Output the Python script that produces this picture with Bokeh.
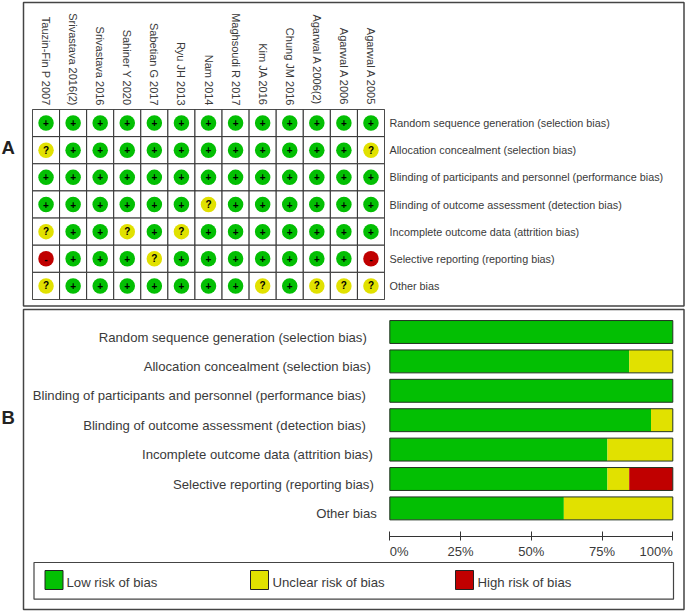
import math
from bokeh.embed import file_html
from bokeh.resources import INLINE
from bokeh.plotting import figure
from bokeh.core.properties import value
from bokeh.models import ColumnDataSource, FactorRange, Range1d, FixedTicker, LinearAxis

studies = ["Tauzin-Fin P 2007", "Srivastava 2016(2)", "Srivastava 2016", "Sahiner Y 2020",
           "Sabetian G 2017", "Ryu JH 2013", "Nam 2014", "Maghsoudi R 2017", "Kim JA 2016",
           "Chung JM 2016", "Agarwal A 2006(2)", "Agarwal A 2006", "Agarwal A 2005"]
domains = ["Random sequence generation (selection bias)",
           "Allocation concealment (selection bias)",
           "Blinding of participants and personnel (performance bias)",
           "Blinding of outcome assessment (detection bias)",
           "Incomplete outcome data (attrition bias)",
           "Selective reporting (reporting bias)",
           "Other bias"]
judgement_rows = [
    list("+++++++++++++"),
    list("?+++++++++++?"),
    list("+++++++++++++"),
    list("++++++?++++++"),
    list("?++?+?+++++++"),
    list("-+++?+++++++-"),
    list("?+++++++?+???"),
]
low_pct = [100, 84.6, 100, 92.3, 76.9, 76.9, 61.5]
unclear_pct = [0, 15.4, 0, 7.7, 23.1, 7.7, 38.5]
high_pct = [0, 0, 0, 0, 0, 15.4, 0]
pct_ticks = [0, 25, 50, 75, 100]
pct_labels = ["0%", "25%", "50%", "75%", "100%"]
pct_aligns = ["left", "center", "center", "center", "right"]
legend_labels = ["Low risk of bias", "Unclear risk of bias", "High risk of bias"]

GREEN, YELLOW, RED = "#03bf03", "#e1e100", "#c00000"
FONT = "Liberation Sans"
TXT = "#3a3a3a"
BOX = "#444444"
colour = {"+": GREEN, "?": YELLOW, "-": RED}


def fig(w, h, top, **kw):
    f = figure(width=w, height=h, output_backend="svg", toolbar_location=None, tools="",
               styles={"position": "absolute", "left": "0px", "top": f"{top}px"},
               border_fill_color=None, background_fill_color=None, **kw)
    f.grid.visible = False
    return f


# ---------- Page layer: panel frames, panel letters, legend
page = fig(685, 611, 0, x_range=Range1d(0, 685), y_range=Range1d(611, 0),
           x_axis_location=None, y_axis_location=None,
           min_border_left=0, min_border_right=0, min_border_top=0, min_border_bottom=0)
page.outline_line_color = None
page.quad(left=[23, 23], right=[683.5, 683.5], top=[2, 309], bottom=[305.5, 609],
          fill_color=None, line_color=BOX, line_width=1.5)
page.quad(left=[33.5], right=[673], top=[562], bottom=[598.7], fill_color=None,
          line_color=BOX, line_width=1.2)
page.text(x=[1, 1], y=[147, 417], text=["A", "B"], text_baseline="middle",
          text_font=value(FONT), text_font_style="bold", text_font_size="18.5px", text_color="#222222")
page.quad(left=[44.5, 250, 455], right=[62.5, 268, 473], top=[570] * 3, bottom=[589] * 3,
          fill_color=[GREEN, YELLOW, RED], line_color="#222222", line_width=1)
page.text(x=[66, 272, 477], y=[582] * 3, text=legend_labels, text_baseline="middle",
          text_font=value(FONT), text_font_size="13.2px", text_color=TXT)

# ---------- Panel A
a = fig(685, 306, 0, x_range=FactorRange(factors=studies), y_range=FactorRange(factors=domains[::-1]),
        x_axis_location="above", y_axis_location="right",
        min_border_left=32, min_border_right=301, min_border_top=109, min_border_bottom=7)
a.outline_line_color = "#333333"
for ax in (a.xaxis[0], a.yaxis[0]):
    ax.axis_line_color = None
    ax.major_tick_line_color = None
    ax.minor_tick_line_color = None
    ax.major_tick_in = 0
    ax.major_tick_out = 0
    ax.major_label_text_font = FONT
    ax.major_label_text_color = TXT
a.xaxis[0].major_label_text_font_size = "11px"
a.yaxis[0].major_label_text_font_size = "10.8px"
a.xaxis[0].major_label_orientation = -math.pi / 2
a.xaxis[0].major_label_standoff = 4
a.yaxis[0].major_label_standoff = 5

xs, ys, js, cs = [], [], [], []
for d, row in zip(domains, judgement_rows):
    for s, j in zip(studies, row):
        xs.append(s); ys.append(d); js.append(j); cs.append(colour[j])
src = ColumnDataSource(dict(x=xs, y=ys, j=js, c=cs))
a.rect("x", "y", width=1, height=1, source=src, fill_color="white", line_color="#333333", line_width=1)
a.scatter("x", "y", source=src, size=15.5, fill_color="c", line_color=None)
a.text("x", "y", text="j", source=src, text_align="center", text_baseline="middle",
       text_font=value(FONT), text_font_style="bold", text_font_size="10px", text_color="#000000")

# ---------- Panel B: the frame fills the figure; the scales put 0-100 % on the bars
PX_PER_PCT = 2.83
PX_PER_ROW = 29.4
y0 = -25.5 / PX_PER_ROW
AXIS_Y = 6.946
TICK_LABEL_Y = 7.449
b = fig(685, 305, 306,
        x_range=Range1d(-389.3 / PX_PER_PCT, (685 - 389.3) / PX_PER_PCT),
        y_range=Range1d(y0 + 305 / PX_PER_ROW, y0),
        x_axis_location=None, y_axis_location=None,
        min_border_left=0, min_border_right=0, min_border_top=0, min_border_bottom=0)
b.outline_line_color = None
idx = list(range(len(domains)))
left3 = [l + u for l, u in zip(low_pct, unclear_pct)]
right3 = [l + h for l, h in zip(left3, high_pct)]
bars = ColumnDataSource(dict(y=idx, zero=[0] * 7, low=low_pct, mid=left3, end=right3))
H = 0.78
b.hbar(y="y", left="zero", right="low", height=H, source=bars, fill_color=GREEN, line_color=None)
b.hbar(y="y", left="low", right="mid", height=H, source=bars, fill_color=YELLOW, line_color=None)
b.hbar(y="y", left="mid", right="end", height=H, source=bars, fill_color=RED, line_color=None)
b.hbar(y="y", left="zero", right="end", height=H, source=bars, fill_color=None, line_color="#223322", line_width=1)

dom_nudge = [-23, -19, -24, -24, -17, -16, -13]
b.text(x="zero", y="y", text="d", x_offset="n", y_offset=5,
       source=ColumnDataSource(dict(zero=[0] * 7, y=idx, d=domains, n=dom_nudge)),
       text_align="right", text_baseline="middle", text_font=value(FONT),
       text_font_size="13.15px", text_color=TXT)

xa = LinearAxis(fixed_location=AXIS_Y, bounds=(0, 100), ticker=FixedTicker(ticks=pct_ticks),
                major_label_overrides={t: "" for t in pct_ticks},
                axis_line_color="#333333", major_tick_line_color="#333333", minor_tick_line_color=None,
                major_tick_in=5, major_tick_out=4)
b.add_layout(xa, "below")
b.text(x="t", y="y", text="l", text_align="a",
       source=ColumnDataSource(dict(t=pct_ticks, y=[TICK_LABEL_Y] * 5, l=pct_labels, a=pct_aligns)),
       text_baseline="middle", text_font=value(FONT), text_font_size="13px", text_color=TXT)

open("out.html", "w").write(file_html([page, a, b], INLINE))
